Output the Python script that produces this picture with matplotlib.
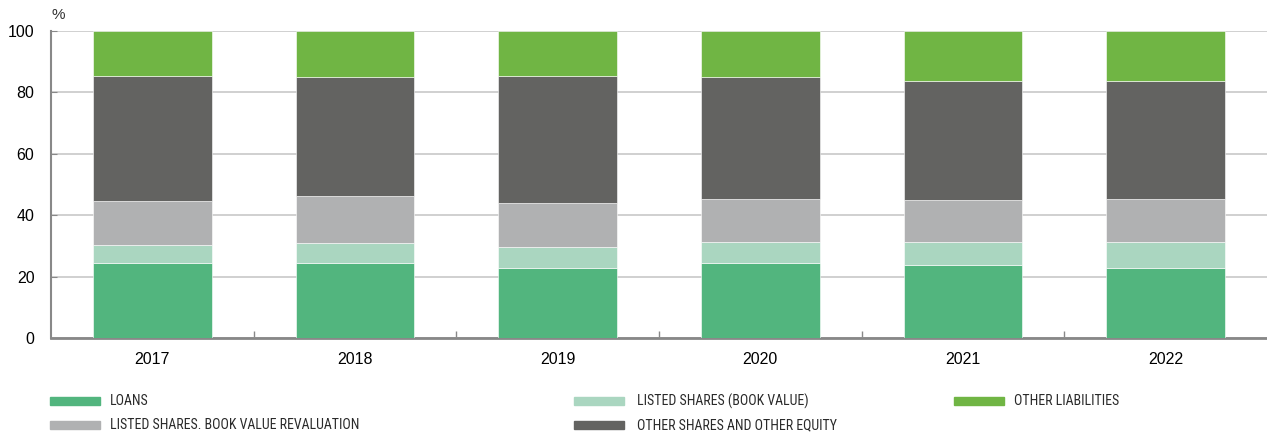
import matplotlib
matplotlib.use("Agg")
import matplotlib.pyplot as plt
from matplotlib.patches import Rectangle
import numpy as np

# ── Data (% of total) ───────────────────────────────────────────────────────
years = ["2017", "2018", "2019", "2020", "2021", "2022"]
loans        = [24.4, 24.4, 22.7, 24.3, 23.7, 22.7]
listed_book  = [6.0, 6.4, 6.9, 7.1, 7.5, 8.5]
listed_reval = [14.2, 15.6, 14.3, 13.9, 13.9, 14.1]
other_shares = [40.8, 38.7, 41.5, 39.8, 38.7, 38.4]
other_liab   = [14.6, 14.9, 14.6, 14.9, 16.2, 16.3]

series = [
    ("LOANS", loans, "#52b57e"),
    ("LISTED SHARES (BOOK VALUE)", listed_book, "#aad6c0"),
    ("LISTED SHARES. BOOK VALUE REVALUATION", listed_reval, "#b0b1b2"),
    ("OTHER SHARES AND OTHER EQUITY", other_shares, "#636361"),
    ("OTHER LIABILITIES", other_liab, "#70b544"),
]

plt.rcParams["font.family"] = ["Liberation Sans", "DejaVu Sans"]
LEG_FONT = ["Roboto Condensed", "Liberation Sans", "DejaVu Sans"]

fig = plt.figure(figsize=(12.67, 4.32), dpi=100)
ax = fig.add_axes([0.0403, 0.2176, 0.9597, 0.7106])

x = np.arange(len(years))
bottom = np.zeros(len(years))
for name, vals, col in series:
    ax.bar(x, vals, width=0.586, bottom=bottom, color=col,
           edgecolor="white", linewidth=0.4, zorder=3)
    bottom += np.array(vals)

# ── Axes ────────────────────────────────────────────────────────────────────
ax.set_xlim(-0.5, len(years) - 0.5)
ax.set_ylim(0, 100)
ax.set_yticks([0, 20, 40, 60, 80, 100])
ax.yaxis.grid(True, color="#c8c8c8", linewidth=1.2, zorder=0)
ax.set_axisbelow(True)

ax.set_xticks(x)
ax.set_xticklabels(years, fontsize=11.5)
ax.set_xticks(np.arange(0.5, len(years) - 0.5), minor=True)
ax.tick_params(axis="x", which="major", length=0, pad=10)
ax.tick_params(axis="x", which="minor", direction="in", length=5,
               color="#888888", width=1)
ax.tick_params(axis="y", direction="in", length=4, color="#888888",
               labelsize=11.5, pad=12)

for side in ("top", "right"):
    ax.spines[side].set_visible(False)
ax.spines["left"].set_color("#888888")
ax.spines["left"].set_linewidth(1.5)
ax.spines["bottom"].set_color("#888888")
ax.spines["bottom"].set_linewidth(2)

fig.text(52 / 1267, 1 - 15 / 432, "%", fontsize=11, ha="left", va="center",
         color="#333333")

# ── Legend, laid out by hand in figure pixels ──────────────────────────────
W, H = 1267, 432
legend_pos = [
    (50, 401), (574, 401), (50, 425), (574, 425), (954, 401),
]
text_x = {50: 110, 574: 637, 954: 1014}
for (name, _, col), (px, py) in zip(series, legend_pos):
    fig.patches.append(Rectangle((px / W, 1 - (py + 3.75) / H), 50 / W,
                                 7.5 / H, transform=fig.transFigure,
                                 color=col))
    fig.text(text_x[px] / W, 1 - py / H, name, fontsize=10, family=LEG_FONT,
             ha="left", va="center", color="#2a2a2a")

fig.savefig("out.png", dpi=100, facecolor="white")
